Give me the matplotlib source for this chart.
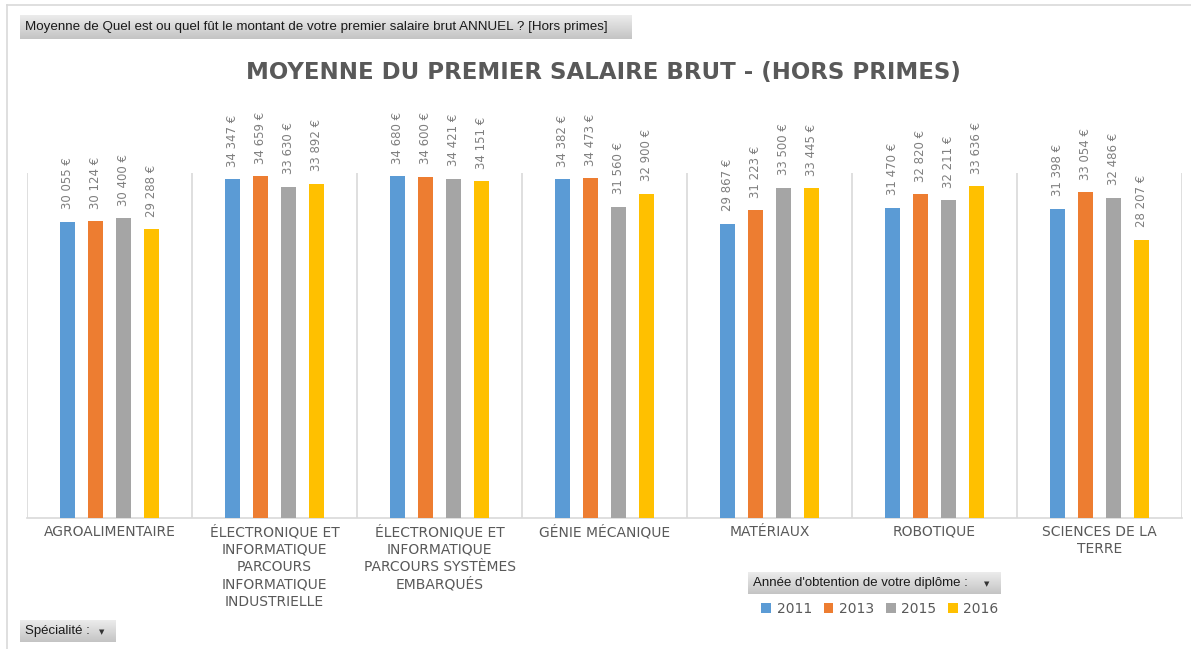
import matplotlib
matplotlib.use("Agg")
import matplotlib.pyplot as plt
import numpy as np
from matplotlib.lines import Line2D
from matplotlib.colors import LinearSegmentedColormap

categories = [
    "AGROALIMENTAIRE",
    "ÉLECTRONIQUE ET\nINFORMATIQUE\nPARCOURS\nINFORMATIQUE\nINDUSTRIELLE",
    "ÉLECTRONIQUE ET\nINFORMATIQUE\nPARCOURS SYSTÈMES\nEMBARQUÉS",
    "GÉNIE MÉCANIQUE",
    "MATÉRIAUX",
    "ROBOTIQUE",
    "SCIENCES DE LA\nTERRE",
]
years = ["2011", "2013", "2015", "2016"]
s2011 = [30055, 34347, 34680, 34382, 29867, 31470, 31398]
s2013 = [30124, 34659, 34600, 34473, 31223, 32820, 33054]
s2015 = [30400, 33630, 34421, 31560, 33500, 32211, 32486]
s2016 = [29288, 33892, 34151, 32900, 33445, 33636, 28207]
series = [s2011, s2013, s2015, s2016]
colors = ["#5B9BD5", "#ED7D31", "#A5A5A5", "#FFC000"]

title = "MOYENNE DU PREMIER SALAIRE BRUT - (HORS PRIMES)"
field_button = "Moyenne de Quel est ou quel fût le montant de votre premier salaire brut ANNUEL ? [Hors primes]"
legend_button = "Année d'obtention de votre diplôme :"
axis_button = "Spécialité :"

W, H = 1191, 649
fig = plt.figure(figsize=(W / 100, H / 100), dpi=100)
fig.patch.set_facecolor("white")

def fx(px):
    return px / W

def fy(py):
    return 1 - py / H

# outer chart border
fig.add_artist(Line2D([fx(7), 1], [fy(5), fy(5)], color="#d9d9d9", lw=1.2))
fig.add_artist(Line2D([fx(7), fx(7)], [fy(5), 0], color="#d9d9d9", lw=1.2))

left, right, top, bottom = 27, 1182, 173, 518
ax = fig.add_axes([fx(left), fy(bottom), fx(right - left), (bottom - top) / H])
ax.set_xlim(-0.5, len(categories) - 0.5)
ax.set_ylim(0, 35000)

x = np.arange(len(categories))
step = 28 / 165
width = 15 / 165
for i, (vals, c, yr) in enumerate(zip(series, colors, years)):
    pos = x + (i - 1.5) * step
    bars = ax.bar(pos, vals, width=width, color=c, label=yr, zorder=3)
    for b, v in zip(bars, vals):
        lab = f"{v:,}".replace(",", " ") + " €"
        ax.annotate(lab, (b.get_x() + b.get_width() / 2, v), xytext=(0, 9),
                    textcoords="offset points", rotation=90, ha="center",
                    va="bottom", fontsize=8.5, color="#7f7f7f", clip_on=False)

for k in range(len(categories) + 1):
    ax.axvline(k - 0.5, color="#d9d9d9", lw=1.2, zorder=1)

for s in ["top", "right", "left"]:
    ax.spines[s].set_visible(False)
ax.spines["bottom"].set_color("#d9d9d9")
ax.spines["bottom"].set_linewidth(1.2)
ax.set_yticks([])
ax.set_xticks(x)
ax.set_xticklabels(categories, fontsize=10, color="#595959", linespacing=1.3, va="top")
ax.tick_params(axis="x", length=0, pad=5)

fig.text(0.507, fy(73), title, ha="center", va="center", fontsize=16.5,
         fontweight="bold", color="#595959")

grad = np.linspace(0, 1, 50).reshape(-1, 1)
cmap = LinearSegmentedColormap.from_list("btn", ["#ececec", "#c4c4c4"])

def button(x0, y0, x1, y1, text, arrow=False, fs=8.5):
    bax = fig.add_axes([fx(x0), fy(y1), fx(x1 - x0), (y1 - y0) / H])
    bax.imshow(grad, aspect="auto", cmap=cmap, extent=[0, 1, 0, 1], origin="upper")
    bax.set_xlim(0, 1)
    bax.set_ylim(0, 1)
    bax.axis("off")
    fig.text(fx(x0 + 5), fy((y0 + y1) / 2), text, ha="left", va="center",
             fontsize=fs, color="#1a1a1a",
             family=["Liberation Sans Narrow", "Liberation Sans", "DejaVu Sans"])
    if arrow:
        fig.text(fx(x1 - 14), fy((y0 + y1) / 2 + 1), "▼", ha="center", va="center",
                 fontsize=5, color="#333333")

button(20, 15, 631, 39, field_button, fs=9.6)
button(748, 572, 1001, 594, legend_button, arrow=True, fs=9.5)
button(20, 620, 116, 642, axis_button, arrow=True, fs=9.5)

handles, labels = ax.get_legend_handles_labels()
fig.legend(handles, labels, loc="center", bbox_to_anchor=(fx(880), fy(609)), ncol=4,
           frameon=False, fontsize=10, handlelength=0.7, handleheight=0.7,
           handletextpad=0.4, columnspacing=0.85, labelcolor="#595959")

fig.savefig("out.png", dpi=100, facecolor="white")
